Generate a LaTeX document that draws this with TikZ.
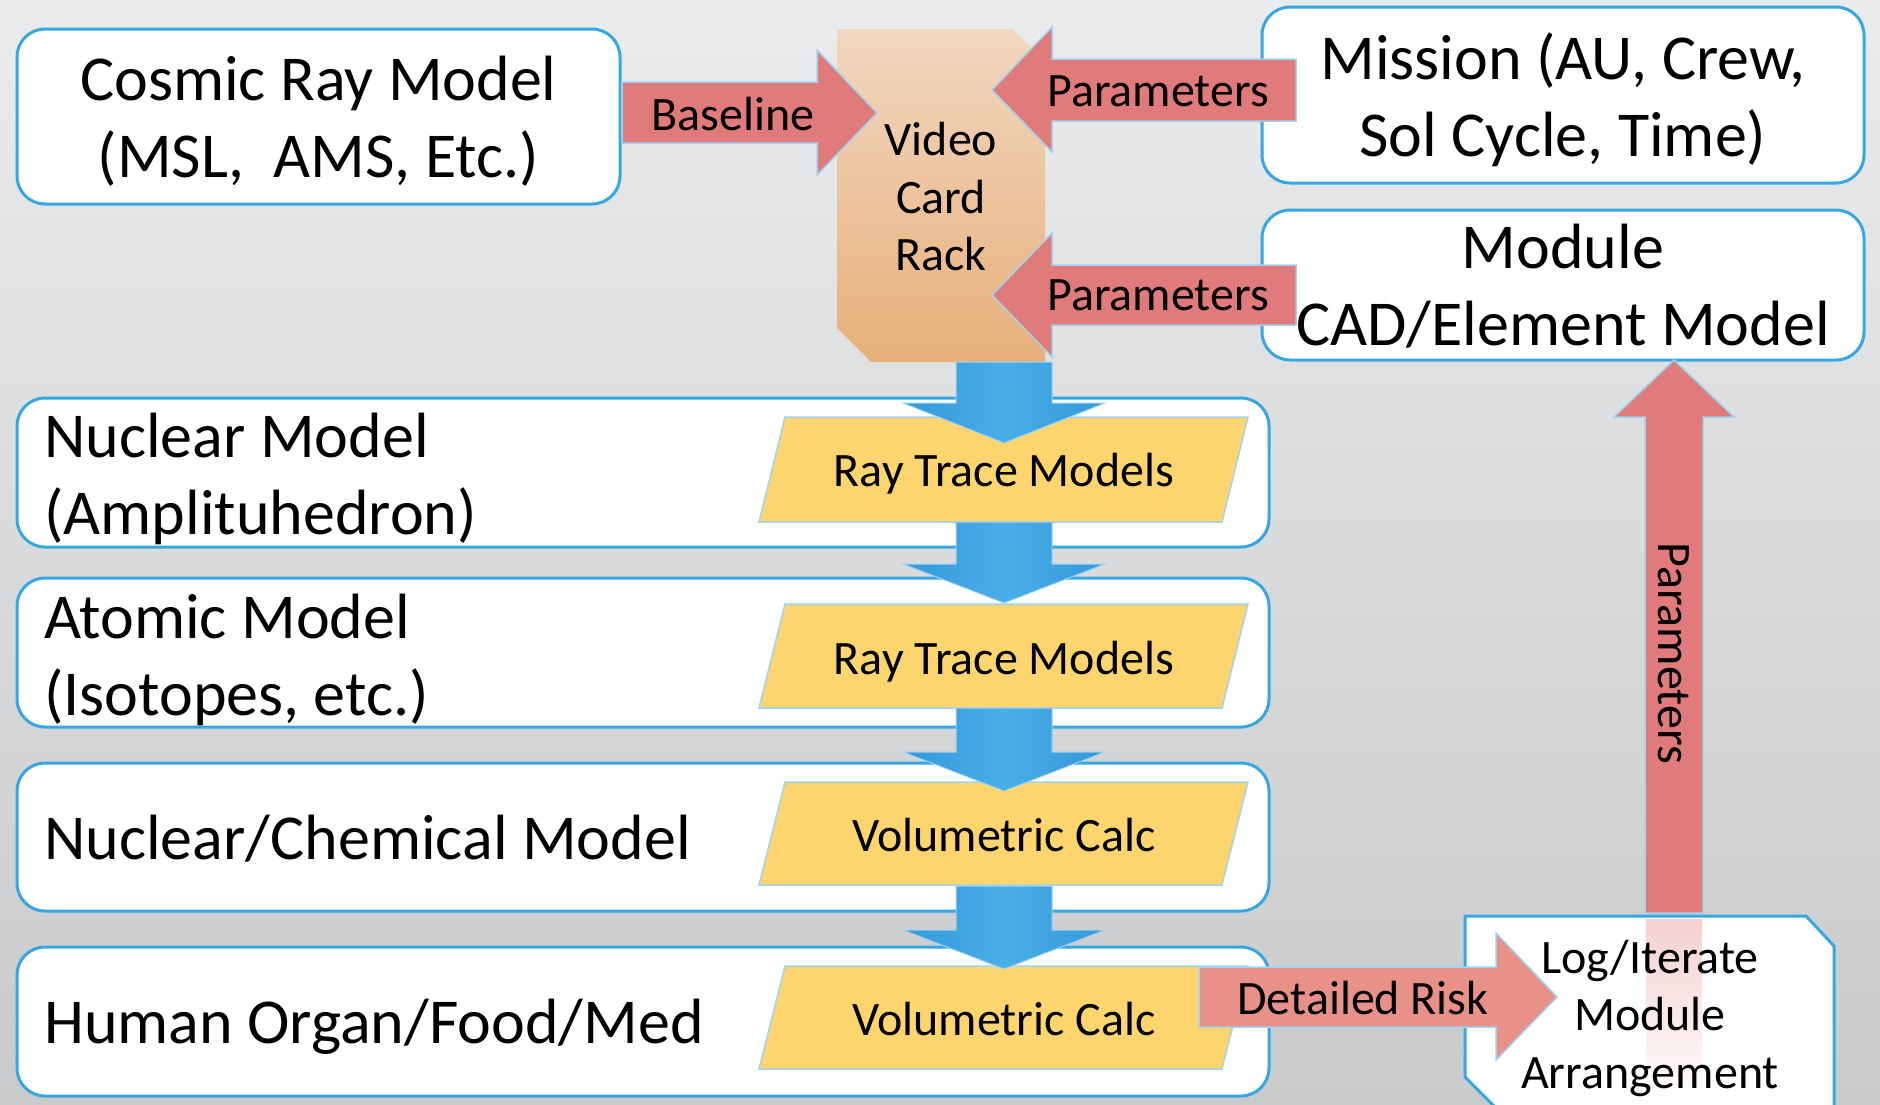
\documentclass[tikz,border=0pt]{standalone}
\usepackage{fontspec}
\setmainfont{Carlito}
\definecolor{boxblue}{RGB}{53,168,226}
\definecolor{edgeblue}{RGB}{160,210,242}
\definecolor{arrred}{RGB}{225,122,122}
\definecolor{riskred}{RGB}{232,145,136}
\definecolor{arrblue}{RGB}{74,174,232}
\definecolor{arrbluedk}{RGB}{52,152,218}
\definecolor{paryellow}{RGB}{253,213,111}
\definecolor{racktop}{RGB}{242,215,192}
\definecolor{rackbot}{RGB}{231,176,122}
\definecolor{bgtop}{RGB}{234,235,236}
\definecolor{bgmid}{RGB}{246,246,246}
\definecolor{bgbot}{RGB}{200,202,204}
\tikzset{
  rbox/.style={draw=boxblue, line width=3pt, fill=white, rounded corners=28pt, inner sep=0pt},
  bigtxt/.style={font=\fontsize{64}{77}\selectfont, align=center, inner sep=0pt},
  smtxt/.style={font=\fontsize{48}{57.5}\selectfont, align=center, inner sep=0pt},
  redarrow/.style={fill=arrred, draw=edgeblue, line width=1.5pt},
  riskarrow/.style={fill=riskred, draw=edgeblue, line width=1.5pt},
  bluearrow/.style={left color=arrbluedk, right color=arrbluedk, middle color=arrblue, draw=edgeblue, line width=1pt},
  para/.style={fill=paryellow, draw=edgeblue, line width=1.5pt},
}
\begin{document}
\begin{tikzpicture}[x=1pt,y=-1pt]
\useasboundingbox (0,0) rectangle (1880,1104);
\begin{scope}
\clip (0,0) rectangle (1880,1104);
% background
\shade[top color=bgtop, middle color=bgmid, bottom color=bgbot] (0,0) rectangle (1880,1104);

% top boxes
\node[rbox, minimum width=603pt, minimum height=175pt] (cosmic) at (318.5,116.5) {};
\node[bigtxt] (cosmictxt) at (318.5,121.5) {Cosmic Ray Model\\(MSL,\ \ AMS, Etc.)};
\node[rbox, minimum width=602pt, minimum height=176pt] (mission) at (1563,95) {};
\node[bigtxt] (missiontxt) at (1563,100) {Mission (AU, Crew,\\Sol Cycle, Time)};
\node[rbox, minimum width=602pt, minimum height=150pt] (module) at (1563,285) {};
\node[bigtxt] (moduletxt) at (1563,286.5) {Module\\CAD/Element Model};

% video card rack
\shade[top color=racktop, bottom color=rackbot] (837,29) -- (1012,29) -- (1045,62) -- (1045,362) -- (871,362) -- (837,328) -- cycle;
\node[smtxt] (rack) at (941,197) {Video\\Card\\Rack};

% long boxes
\node[rbox, minimum width=1252pt, minimum height=149pt] (nuclear) at (643,472.5) {};
\node[rbox, minimum width=1252pt, minimum height=149pt] (atomic) at (643,652.5) {};
\node[rbox, minimum width=1252pt, minimum height=148pt] (chem) at (643,837) {};
\node[rbox, minimum width=1252pt, minimum height=149pt] (human) at (643,1021.5) {};
\node[bigtxt, align=left, anchor=west] (nucleartxt) at (44,479) {Nuclear Model\\(Amplituhedron)};
\node[bigtxt, align=left, anchor=west] (atomictxt) at (44,659.5) {Atomic Model\\(Isotopes, etc.)};
\node[bigtxt, anchor=west] (chemtxt) at (44,838.5) {Nuclear/Chemical Model};
\node[bigtxt, anchor=west] (humantxt) at (44,1027) {Human Organ/Food/Med};

% parallelograms
\draw[para] (759,522) -- (785,417) -- (1248,417) -- (1222,522) -- cycle;
\draw[para] (759,708) -- (785,604) -- (1248,604) -- (1222,708) -- cycle;
\draw[para] (759,885) -- (785,782) -- (1248,782) -- (1222,885) -- cycle;
\draw[para] (759,1069) -- (785,966) -- (1248,966) -- (1222,1069) -- cycle;

% blue arrows
\draw[bluearrow] (956,362) -- (1052,362) -- (1052,403) -- (1105,403) -- (1004,443) -- (903,403) -- (956,403) -- cycle;
\draw[bluearrow] (956,522) -- (1052,522) -- (1052,564) -- (1105,564) -- (1004,603) -- (903,564) -- (956,564) -- cycle;
\draw[bluearrow] (956,708) -- (1052,708) -- (1052,752) -- (1105,752) -- (1004,791) -- (903,752) -- (956,752) -- cycle;
\draw[bluearrow] (956,886) -- (1052,886) -- (1052,930) -- (1105,930) -- (1004,969) -- (903,930) -- (956,930) -- cycle;

\node[smtxt] (rt1) at (1004,474) {Ray Trace Models};
\node[smtxt] (rt2) at (1004,662) {Ray Trace Models};
\node[smtxt] (vc1) at (1004,835) {Volumetric Calc};
\node[smtxt] (vc2) at (1004,1019) {Volumetric Calc};

% red arrows
\draw[redarrow] (622,82) -- (817,82) -- (817,50) -- (877,113) -- (817,175) -- (817,143) -- (622,143) -- cycle;
\node[smtxt] (baseline) at (733,114) {Baseline};
\draw[redarrow] (1296,59) -- (1052,59) -- (1052,27) -- (992,90) -- (1052,152) -- (1052,121) -- (1296,121) -- cycle;
\node[smtxt] (param1) at (1158,91) {Parameters};
\draw[redarrow] (1296,265) -- (1052,265) -- (1052,233) -- (992,295) -- (1052,357) -- (1052,325) -- (1296,325) -- cycle;
\node[smtxt] (param2) at (1158,295) {Parameters};

% log/iterate box
\draw[draw=boxblue, line width=3pt, fill=white] (1465,916) -- (1806,916) -- (1834,946) -- (1834,1130) -- (1518,1130) -- (1465,1077) -- cycle;
\shade[top color=arrred!35!white, bottom color=white] (1646,919) rectangle (1702,1104);

% vertical parameters arrow
\draw[redarrow] (1645,913) -- (1645,417) -- (1614,417) -- (1674,360) -- (1734,417) -- (1703,417) -- (1703,913) -- cycle;
\node[smtxt, rotate=-90] (param3) at (1674,653) {Parameters};

% detailed risk arrow
\draw[riskarrow] (1199,967) -- (1496,967) -- (1496,933) -- (1557,997) -- (1496,1060) -- (1496,1027) -- (1199,1027) -- cycle;
\node[smtxt] (risk) at (1363,998) {Detailed Risk};
\node[smtxt] (logtxt) at (1650,1018) {Log/Iterate\\Module\\Arrangement};
\end{scope}
\end{tikzpicture}
\end{document}
